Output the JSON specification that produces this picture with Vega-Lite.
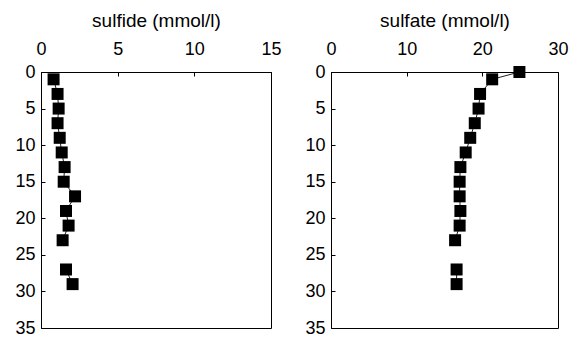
{
  "$schema": "https://vega.github.io/schema/vega-lite/v6.json",
  "padding": {"left": 14, "top": 10, "right": 0, "bottom": 0},
  "background": "white",
  "bounds": "flush",
  "spacing": 60,
  "config": {
    "font": "Liberation Sans",
    "view": {"stroke": "black", "strokeWidth": 1},
    "axis": {
      "grid": false,
      "domainColor": "black",
      "tickColor": "black",
      "tickSize": -4,
      "labelFlush": false,
      "labelFontSize": 18,
      "labelColor": "black",
      "titleFontSize": 19,
      "titleFontWeight": "normal",
      "titleColor": "black",
      "labelFont": "Liberation Sans",
      "titleFont": "Liberation Sans"
    }
  },
  "datasets": {
    "sulfide": [
      {"depth": 1, "value": 0.82, "segment": "a"},
      {"depth": 3, "value": 1.08, "segment": "a"},
      {"depth": 5, "value": 1.15, "segment": "a"},
      {"depth": 7, "value": 1.08, "segment": "a"},
      {"depth": 9, "value": 1.22, "segment": "a"},
      {"depth": 11, "value": 1.35, "segment": "a"},
      {"depth": 13, "value": 1.54, "segment": "a"},
      {"depth": 15, "value": 1.48, "segment": "a"},
      {"depth": 17, "value": 2.22, "segment": "a"},
      {"depth": 19, "value": 1.63, "segment": "a"},
      {"depth": 21, "value": 1.8, "segment": "a"},
      {"depth": 23, "value": 1.41, "segment": "a"},
      {"depth": 27, "value": 1.63, "segment": "b"},
      {"depth": 29, "value": 2.06, "segment": "b"}
    ],
    "sulfate": [
      {"depth": 0, "value": 24.9, "segment": "a"},
      {"depth": 1, "value": 21.3, "segment": "a"},
      {"depth": 3, "value": 19.7, "segment": "a"},
      {"depth": 5, "value": 19.5, "segment": "a"},
      {"depth": 7, "value": 19.0, "segment": "a"},
      {"depth": 9, "value": 18.4, "segment": "a"},
      {"depth": 11, "value": 17.8, "segment": "a"},
      {"depth": 13, "value": 17.1, "segment": "a"},
      {"depth": 15, "value": 17.0, "segment": "a"},
      {"depth": 17, "value": 17.0, "segment": "a"},
      {"depth": 19, "value": 17.1, "segment": "a"},
      {"depth": 21, "value": 17.0, "segment": "a"},
      {"depth": 23, "value": 16.4, "segment": "a"},
      {"depth": 27, "value": 16.6, "segment": "b"},
      {"depth": 29, "value": 16.6, "segment": "b"}
    ]
  },
  "hconcat": [
    {
      "width": 230,
      "height": 256,
      "data": {"name": "sulfide"},
      "encoding": {
        "x": {"field": "value", "type": "quantitative", "scale": {"domain": [0, 15], "nice": false, "zero": false},
              "axis": {"orient": "top", "title": "sulfide (mmol/l)", "values": [0, 5, 10, 15], "labelPadding": 18, "titlePadding": 10}},
        "y": {"field": "depth", "type": "quantitative", "scale": {"domain": [0, 35], "reverse": true, "nice": false},
              "axis": {"title": null, "values": [0, 5, 10, 15, 20, 25, 30, 35], "labelPadding": 10}}
      },
      "layer": [
        {"mark": {"type": "line", "color": "#222222", "strokeWidth": 1},
         "encoding": {"detail": {"field": "segment"}, "order": {"field": "depth", "type": "quantitative"}}},
        {"mark": {"type": "point", "shape": "square", "filled": true, "color": "black", "size": 144, "opacity": 1}}
      ]
    },
    {
      "width": 227,
      "height": 256,
      "data": {"name": "sulfate"},
      "encoding": {
        "x": {"field": "value", "type": "quantitative", "scale": {"domain": [0, 30], "nice": false, "zero": false},
              "axis": {"orient": "top", "title": "sulfate (mmol/l)", "values": [0, 10, 20, 30], "labelPadding": 18, "titlePadding": 10}},
        "y": {"field": "depth", "type": "quantitative", "scale": {"domain": [0, 35], "reverse": true, "nice": false},
              "axis": {"title": null, "values": [0, 5, 10, 15, 20, 25, 30, 35], "labelPadding": 10}}
      },
      "layer": [
        {"mark": {"type": "line", "color": "#222222", "strokeWidth": 1},
         "encoding": {"detail": {"field": "segment"}, "order": {"field": "depth", "type": "quantitative"}}},
        {"mark": {"type": "point", "shape": "square", "filled": true, "color": "black", "size": 144, "opacity": 1}}
      ]
    }
  ]
}
